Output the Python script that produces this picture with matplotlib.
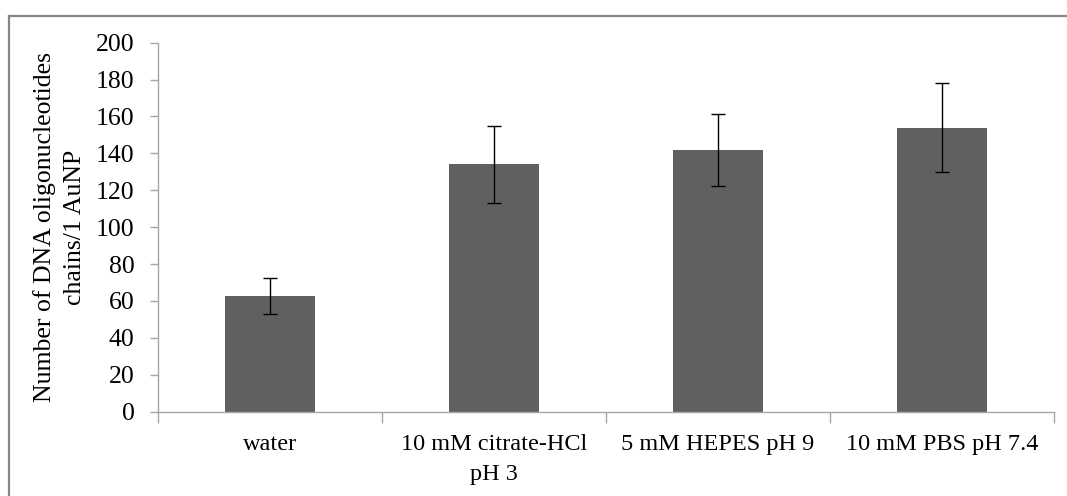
import matplotlib
matplotlib.use("Agg")
import matplotlib.pyplot as plt
from matplotlib.lines import Line2D
import numpy as np

# valores
categorias = ["water", "10 mM citrate-HCl\npH 3", "5 mM HEPES pH 9", "10 mM PBS pH 7.4"]
valores = [62.7, 134.1, 142.0, 154.0]
erros = [9.8, 20.8, 19.4, 23.9]
yticks = [0, 20, 40, 60, 80, 100, 120, 140, 160, 180, 200]

plt.rcParams['font.family'] = ['Liberation Serif', 'DejaVu Serif']
tamanho_x = 17.5
tamanho_y = 18.5

cor_eixo = "#a6a6a6"
fig = plt.figure(figsize=(10.67, 4.96), dpi=100)
ax = fig.add_axes([158 / 1067, 1 - 411.7 / 496, (1054 - 158) / 1067, (411.7 - 42.7) / 496])

x = np.arange(len(categorias))
ax.bar(x, valores, width=0.4, color="#606060", zorder=2)
ax.errorbar(x, valores, yerr=erros, fmt="none", ecolor="black", elinewidth=1.0,
            capsize=5, capthick=1.0, zorder=3)

ax.set_xlim(-0.5, len(categorias) - 0.5)
ax.set_ylim(0, 200)
ax.set_yticks(yticks)
ax.set_xticks(x)
ax.set_xticklabels(categorias, fontsize=tamanho_x, linespacing=1.55)
for rotulo in ax.get_xticklabels():
    rotulo.set_multialignment("center")
ax.set_xticks(np.arange(-0.5, len(categorias), 1.0), minor=True)
ax.tick_params(axis="x", which="major", length=0, pad=16)
ax.tick_params(axis="x", which="minor", length=8, color=cor_eixo, width=1)
ax.tick_params(axis="y", length=6, color=cor_eixo, width=1, pad=11, labelsize=tamanho_y)

for lado in ["top", "right"]:
    ax.spines[lado].set_visible(False)
for lado in ["left", "bottom"]:
    ax.spines[lado].set_color(cor_eixo)
    ax.spines[lado].set_linewidth(1)

ax.set_ylabel("Number of DNA oligonucleotides\nchains/1 AuNP", fontsize=tamanho_y, linespacing=1.5, labelpad=7)

# moldura cinza do grafico (cortada na direita e embaixo)
fig.add_artist(Line2D([8.5 / 1067, 1], [1 - 16 / 496, 1 - 16 / 496], color="#868686", linewidth=1.6))
fig.add_artist(Line2D([8.5 / 1067, 8.5 / 1067], [0, 1 - 16 / 496], color="#868686", linewidth=1.6))

fig.savefig("out.png", dpi=100)
